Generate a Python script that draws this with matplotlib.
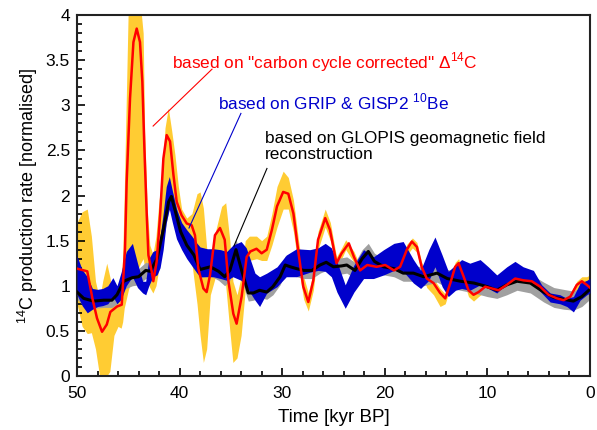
import matplotlib
matplotlib.use("Agg")
import matplotlib.pyplot as plt
from matplotlib.ticker import MultipleLocator

plt.rcParams['font.family'] = ['Liberation Sans', 'DejaVu Sans']
plt.rcParams['mathtext.fontset'] = 'custom'
plt.rcParams['mathtext.rm'] = 'Liberation Sans'

# carbon cycle corrected D14C: band (yellow) and central line (red)
yel_t = [50.0, 49.5, 49.0, 48.6, 48.2, 47.8, 47.5, 47.1, 46.8, 46.4, 46.0, 45.7, 45.55, 45.4, 45.2,
         45.0, 44.6, 44.2, 43.8, 43.55, 43.4, 43.15, 42.9, 42.6, 42.3, 42.0, 41.74, 41.42, 41.1, 40.77,
         40.45, 40.12, 39.8, 39.3, 38.8, 38.3, 38.0, 37.68, 37.36, 37.0, 36.5, 35.9, 35.5, 35.1, 34.8,
         34.4, 34.0, 33.6, 33.2, 32.5, 32.0, 31.5, 31.0, 30.5, 29.9, 29.4, 28.9, 28.4, 27.9, 27.45,
         26.96, 26.5, 25.8, 25.3, 24.7, 24.2, 23.8, 23.0, 22.4, 21.7, 20.8, 19.95, 19.1, 18.5, 17.84,
         17.3, 16.86, 16.4, 15.9, 15.24, 14.6, 14.1, 13.6, 13.13, 12.8, 12.3, 11.83, 11.34, 10.85, 10.2,
         9.55, 8.9, 8.1, 7.28, 6.47, 5.66, 4.84, 4.03, 3.2, 2.56, 1.9, 1.27, 0.78, 0.3, 0.0]
yel_hi = [1.70, 1.82, 1.85, 1.55, 1.05, 0.85, 1.05, 1.25, 1.10, 0.85, 0.95, 1.05, 1.30, 2.00, 3.05,
          4.10, 4.10, 4.10, 4.10, 3.80, 2.70, 1.85, 1.45, 1.35, 1.55, 1.95, 2.15, 2.75, 2.97, 2.72,
          2.45, 2.10, 1.85, 1.75, 1.80, 2.02, 2.04, 1.86, 1.42, 1.30, 1.60, 1.88, 1.92, 1.50, 1.05,
          0.90, 1.10, 1.50, 1.55, 1.55, 1.50, 1.55, 1.80, 2.10, 2.27, 2.20, 1.95, 1.50, 1.10, 0.92,
          1.15, 1.60, 1.85, 1.70, 1.32, 1.42, 1.51, 1.38, 1.22, 1.28, 1.26, 1.28, 1.22, 1.26, 1.46,
          1.53, 1.48, 1.26, 1.12, 1.08, 0.97, 0.91, 1.08, 1.26, 1.30, 1.15, 1.00, 0.95, 0.98, 1.03,
          1.02, 1.00, 1.06, 1.12, 1.10, 1.09, 1.03, 0.94, 0.90, 0.88, 0.92, 1.05, 1.10, 1.10, 1.12]
yel_lo = [0.80, 0.55, 0.47, 0.48, 0.30, 0.00, 0.00, 0.00, 0.05, 0.45, 0.55, 0.53, 0.60, 0.75, 0.85,
          0.95, 1.10, 1.15, 1.25, 1.30, 1.20, 1.05, 0.98, 0.92, 1.00, 1.20, 1.50, 1.90, 2.05, 2.05,
          1.90, 1.70, 1.55, 1.45, 1.25, 0.80, 0.45, 0.15, 0.30, 0.90, 1.10, 1.35, 1.00, 0.50, 0.15,
          0.20, 0.45, 0.95, 1.28, 1.30, 1.28, 1.28, 1.45, 1.65, 1.85, 1.85, 1.60, 1.20, 0.85, 0.72,
          0.95, 1.40, 1.65, 1.50, 1.20, 1.30, 1.40, 1.26, 1.12, 1.18, 1.16, 1.17, 1.10, 1.15, 1.34,
          1.42, 1.37, 1.14, 0.98, 0.90, 0.77, 0.80, 0.98, 1.16, 1.20, 1.05, 0.88, 0.83, 0.88, 0.94,
          0.92, 0.90, 0.96, 1.03, 1.01, 1.00, 0.94, 0.85, 0.81, 0.79, 0.83, 0.96, 1.00, 0.96, 0.95]

red_t = [50.0, 49.0, 48.5, 48.05, 47.56, 47.1, 46.75, 46.1, 45.64, 45.32, 45.16, 44.83, 44.5, 44.18, 43.86,
         43.63, 43.43, 43.2, 43.04, 42.72, 42.56, 42.23, 41.9, 41.58, 41.26, 40.93, 40.6, 40.28, 39.8, 39.3,
         38.82, 38.5, 38.17, 37.68, 37.36, 37.03, 36.55, 36.06, 35.6, 35.25, 34.76, 34.44, 33.95, 33.46, 33.1,
         32.5, 32.0, 31.5, 31.0, 30.5, 29.9, 29.4, 28.9, 28.4, 27.94, 27.45, 26.96, 26.5, 25.8, 25.34,
         24.7, 24.2, 23.5, 23.0, 22.4, 21.7, 20.8, 19.95, 19.1, 18.5, 17.84, 17.35, 16.86, 16.4, 15.9,
         15.24, 14.6, 14.1, 13.6, 13.13, 12.8, 12.3, 11.83, 11.34, 10.85, 10.2, 9.55, 8.9, 8.1, 7.28,
         6.47, 5.66, 4.84, 4.03, 3.2, 2.56, 1.9, 1.27, 0.78, 0.3, 0.0]
red_v = [1.19, 1.16, 0.86, 0.64, 0.49, 0.57, 0.71, 0.77, 0.79, 1.41, 2.15, 3.08, 3.70, 3.85, 3.70,
         3.26, 2.52, 1.78, 1.34, 1.16, 1.05, 1.27, 1.78, 2.41, 2.67, 2.60, 2.23, 1.93, 1.78, 1.69,
         1.67, 1.56, 1.19, 0.97, 0.93, 1.12, 1.56, 1.64, 1.51, 1.06, 0.69, 0.58, 0.88, 1.32, 1.38,
         1.41, 1.36, 1.40, 1.62, 1.88, 2.04, 2.02, 1.80, 1.36, 0.99, 0.82, 1.06, 1.51, 1.75, 1.62,
         1.25, 1.36, 1.47, 1.32, 1.17, 1.23, 1.21, 1.23, 1.17, 1.21, 1.40, 1.49, 1.43, 1.21, 1.08,
         1.03, 0.92, 0.86, 1.03, 1.21, 1.25, 1.10, 0.95, 0.90, 0.93, 0.99, 0.97, 0.95, 1.01, 1.08,
         1.06, 1.05, 0.99, 0.90, 0.86, 0.84, 0.88, 1.01, 1.05, 1.01, 0.98]

# GRIP & GISP2 10Be band (blue)
be_t = [50.0, 49.5, 49.0, 48.5, 48.0, 47.5, 47.0, 46.5, 46.1, 45.7, 45.2, 44.6, 44.1, 43.6, 43.3,
        43.0, 42.6, 42.2, 41.9, 41.6, 41.3, 41.0, 40.7, 40.3, 39.8, 39.3, 38.8, 38.3, 38.0, 37.3,
        36.7, 36.0, 35.4, 34.8, 34.0, 33.5, 33.1, 32.65, 32.2, 31.5, 30.5, 29.6, 28.6, 27.3, 26.5,
        25.8, 25.2, 24.66, 23.85, 23.0, 22.06, 21.1, 20.1, 19.1, 18.2, 17.2, 16.5, 15.7, 15.1, 14.4,
        13.8, 13.1, 12.5, 11.7, 10.7, 9.9, 9.07, 8.1, 7.3, 6.5, 5.5, 4.7, 3.87, 2.9, 2.24,
        1.6, 0.95, 0.3, 0.0]
be_hi = [1.33, 1.18, 1.10, 0.97, 0.96, 0.97, 1.00, 1.09, 1.00, 1.15, 1.38, 1.47, 1.25, 1.05, 1.05,
         1.30, 1.38, 1.40, 1.55, 1.80, 2.10, 2.21, 2.05, 1.85, 1.70, 1.62, 1.55, 1.47, 1.43, 1.41,
         1.41, 1.40, 1.38, 1.45, 1.49, 1.42, 1.29, 1.14, 1.10, 1.14, 1.21, 1.34, 1.41, 1.40, 1.42,
         1.47, 1.42, 1.27, 1.01, 1.23, 1.40, 1.32, 1.40, 1.47, 1.49, 1.29, 1.17, 1.40, 1.54, 1.34,
         1.16, 1.23, 1.29, 1.25, 1.29, 1.21, 1.12, 1.21, 1.27, 1.21, 1.17, 1.01, 0.92, 0.90, 0.86,
         0.88, 1.03, 1.06, 1.08]
be_lo = [0.90, 0.78, 0.70, 0.74, 0.77, 0.78, 0.80, 0.88, 0.80, 0.85, 1.00, 1.10, 0.98, 0.92, 0.90,
         1.00, 1.10, 1.12, 1.20, 1.40, 1.70, 1.85, 1.70, 1.52, 1.40, 1.30, 1.22, 1.14, 1.10, 1.10,
         1.10, 1.08, 1.06, 1.10, 1.06, 1.00, 0.92, 0.84, 0.77, 0.92, 0.99, 1.10, 1.10, 1.15, 1.17,
         1.16, 1.10, 0.93, 0.75, 0.93, 1.08, 1.08, 1.12, 1.17, 1.16, 1.03, 0.97, 1.06, 1.21, 0.99,
         0.88, 0.95, 0.97, 0.95, 1.01, 0.97, 0.92, 1.03, 1.06, 1.05, 1.01, 0.92, 0.82, 0.80, 0.77,
         0.71, 0.84, 0.90, 0.92]

# GLOPIS geomagnetic field reconstruction: line (black) and band (grey)
geo_t = [50.0, 49.35, 48.4, 47.4, 46.6, 46.1, 45.45, 44.6, 44.0, 43.3, 42.85, 42.2, 41.55, 41.07, 40.8,
         40.4, 39.9, 39.3, 38.6, 38.0, 37.0, 36.2, 35.6, 35.1, 34.5, 33.95, 33.3, 32.8, 32.2, 31.5,
         30.9, 30.2, 29.7, 29.2, 28.6, 27.9, 27.1, 26.3, 25.7, 25.0, 24.2, 23.7, 22.9, 22.2, 21.6,
         21.0, 20.1, 19.1, 18.2, 17.2, 16.2, 14.9, 13.9, 12.6, 11.3, 10.0, 9.07, 8.1, 7.1, 5.8,
         4.5, 3.5, 2.56, 1.6, 0.78, 0.0]
geo_v = [0.93, 0.86, 0.83, 0.84, 0.84, 0.90, 1.05, 1.09, 1.10, 1.17, 1.16, 1.30, 1.64, 1.93, 1.99,
         1.82, 1.60, 1.45, 1.34, 1.18, 1.21, 1.16, 1.10, 1.17, 1.40, 1.17, 0.92, 0.92, 0.95, 0.93,
         0.99, 1.10, 1.23, 1.21, 1.19, 1.17, 1.17, 1.23, 1.26, 1.21, 1.22, 1.23, 1.17, 1.30, 1.38,
         1.27, 1.21, 1.19, 1.14, 1.14, 1.10, 1.14, 1.08, 1.05, 1.03, 0.99, 0.95, 1.01, 1.05, 1.03,
         0.93, 0.87, 0.85, 0.83, 0.88, 0.96]
geo_hi = [1.02, 0.95, 0.92, 0.93, 0.93, 1.00, 1.15, 1.18, 1.19, 1.26, 1.25, 1.40, 1.74, 2.02, 2.08,
          1.92, 1.70, 1.55, 1.43, 1.27, 1.30, 1.25, 1.20, 1.28, 1.52, 1.28, 1.02, 1.01, 1.04, 1.02,
          1.08, 1.20, 1.33, 1.30, 1.28, 1.26, 1.26, 1.32, 1.35, 1.30, 1.31, 1.32, 1.26, 1.40, 1.47,
          1.36, 1.30, 1.28, 1.23, 1.23, 1.20, 1.24, 1.18, 1.15, 1.13, 1.09, 1.05, 1.11, 1.15, 1.13,
          1.04, 0.98, 0.96, 0.94, 0.99, 1.07]
geo_lo = [0.85, 0.78, 0.75, 0.76, 0.76, 0.80, 0.96, 1.00, 1.01, 1.08, 1.07, 1.20, 1.54, 1.83, 1.89,
          1.72, 1.50, 1.35, 1.25, 1.09, 1.11, 1.06, 1.00, 1.06, 1.30, 1.06, 0.83, 0.84, 0.87, 0.85,
          0.90, 1.01, 1.14, 1.12, 1.10, 1.08, 1.08, 1.14, 1.17, 1.12, 1.13, 1.14, 1.08, 1.20, 1.28,
          1.18, 1.12, 1.10, 1.05, 1.05, 1.00, 1.04, 0.98, 0.95, 0.92, 0.88, 0.86, 0.90, 0.95, 0.92,
          0.82, 0.76, 0.74, 0.73, 0.77, 0.85]

fig = plt.figure(figsize=(5.97, 4.30), dpi=100)
ax = fig.add_axes([0.129, 0.1256, 0.859, 0.8394])

ax.fill_between(yel_t, yel_lo, yel_hi, color='#FFCC33', lw=0, zorder=1)
ax.fill_between(geo_t, geo_lo, geo_hi, color='#A0A0A0', lw=0, zorder=2)
ax.fill_between(be_t, be_lo, be_hi, color='#0000CC', lw=0, zorder=3)
ax.plot(geo_t, geo_v, color='black', lw=2.2, zorder=4)
ax.plot(red_t, red_v, color='#FF0000', lw=1.8, zorder=5)

ax.set_xlim(50, 0)
ax.set_ylim(0, 4)
ax.xaxis.set_major_locator(MultipleLocator(10))
ax.xaxis.set_minor_locator(MultipleLocator(2))
ax.yaxis.set_minor_locator(MultipleLocator(0.1))
ax.set_yticks([0, 0.5, 1, 1.5, 2, 2.5, 3, 3.5, 4])
ax.set_yticklabels(['0', '0.5', '1', '1.5', '2', '2.5', '3', '3.5', '4'])
ax.tick_params(which='both', direction='in', top=False, right=False, labelsize=12.5, width=1.2)
ax.tick_params(which='major', length=6)
ax.tick_params(which='minor', length=3.5)
ax.tick_params(axis='x', pad=7)
ax.tick_params(axis='y', pad=5)
for s in ax.spines.values():
    s.set_linewidth(1.5)
    s.set_color('#222222')

ax.set_xlabel('Time [kyr BP]', fontsize=13.5, labelpad=6)
ax.set_ylabel('$^{14}$C production rate [normalised]', fontsize=13, labelpad=4)

# annotations
ax.text(40.74, 3.48, 'based on "carbon cycle corrected" \u0394$^{14}$C', color='#FF0000',
        fontsize=12.4, va='center', ha='left', zorder=6)
ax.plot([42.58, 36.84], [2.77, 3.40], color='#FF0000', lw=0.8, zorder=6)
ax.text(36.26, 3.04, 'based on GRIP & GISP2 $^{10}$Be', color='#0000CC',
        fontsize=12.4, va='center', ha='left', zorder=6)
ax.plot([34.02, 39.08], [2.91, 1.64], color='#0000CC', lw=0.8, zorder=6)
ax.text(31.68, 2.54, 'based on GLOPIS geomagnetic field\nreconstruction', color='black',
        fontsize=12.4, va='center', ha='left', linespacing=1.05, zorder=6)
ax.plot([31.48, 34.7], [2.30, 1.44], color='black', lw=0.8, zorder=6)

fig.savefig('out.png', dpi=100)
